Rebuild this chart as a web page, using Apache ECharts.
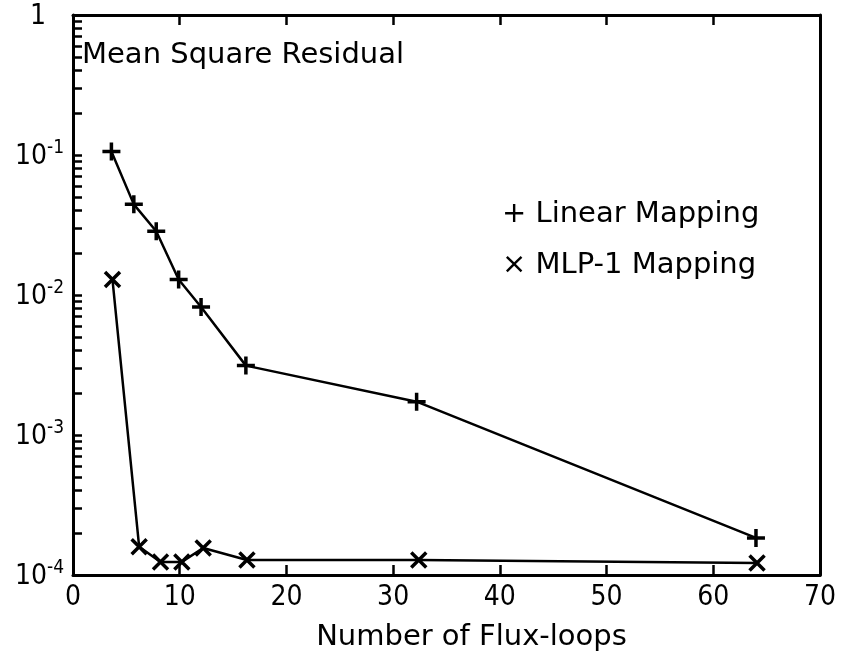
<!DOCTYPE html>
<html>
<head>
<meta charset="utf-8">
<script src="https://cdn.jsdelivr.net/npm/echarts@6/dist/echarts.min.js"></script>
<style>html,body{margin:0;padding:0;background:#fff;}#c{width:841px;height:662px;}</style>
</head>
<body>
<div id="c"></div>
<script>
// Data
var linearX = [3.6, 5.7, 7.8, 9.9, 12, 16.2, 32.2, 64];
var linearY = [0.106, 0.0444, 0.0285, 0.0129, 0.0082, 0.00313, 0.00173, 0.000184];
var mlpX = [3.7, 6.2, 8.2, 10.2, 12.2, 16.3, 32.4, 64.1];
var mlpY = [0.0129, 0.000159, 0.000124, 0.000124, 0.000156, 0.000128, 0.000128, 0.000122];
var xTicks = [0, 10, 20, 30, 40, 50, 60, 70];
var yDecades = [1e-4, 1e-3, 1e-2, 1e-1, 1];
var yDecadeLabels = ['10', '10', '10', '10', '1'];
var yDecadeExps = ['-4', '-3', '-2', '-1', ''];
var seriesNames = ['Linear Mapping', 'MLP-1 Mapping'];
var titleText = 'Mean Square Residual';
var xName = 'Number of Flux-loops';

var FONT = 'DejaVu Sans';
var NUMFONT = '"DejaVu Sans Condensed", "DejaVu Sans"';
var minorVals = [];
for (var d = -4; d < 0; d++) {
  for (var k = 1; k <= 9; k++) minorVals.push(k * Math.pow(10, d));
}
minorVals.push(1);

function pairs(xs, ys) { return xs.map(function (x, i) { return [x, ys[i]]; }); }

var plusPath = 'path://M0,5L10,5M5,0L5,10';
var crossPath = 'path://M0,0L10,10M10,0L0,10';

var chart = echarts.init(document.getElementById('c'));
chart.setOption({
  animation: false,
  backgroundColor: '#fff',
  grid: { left: 73, right: 21, top: 15, bottom: 87, outerBoundsMode: 'none', containLabel: false },
  title: {
    text: titleText, left: 82, top: 41, padding: 0,
    textStyle: { fontFamily: FONT, fontSize: 29, fontWeight: 'normal', color: '#000' }
  },
  legend: {
    data: seriesNames, orient: 'vertical', left: 497, top: 200, itemGap: 22,
    icon: 'none', itemWidth: 0, itemHeight: 0, padding: 0,
    formatter: function (n) { return (n === seriesNames[0] ? '+ ' : '\u00d7 ') + n; },
    textStyle: { fontFamily: FONT, fontSize: 29, color: '#000' }
  },
  xAxis: [{
    type: 'value', min: 0, max: 70, interval: 10,
    name: xName, nameLocation: 'middle', nameGap: 48,
    nameTextStyle: { fontFamily: FONT, fontSize: 29, color: '#000', padding: [0, 0, 0, 50] },
    axisLine: { lineStyle: { color: '#000', width: 3 } },
    axisTick: { inside: true, length: 10, lineStyle: { color: '#000', width: 2.5 } },
    axisLabel: { fontFamily: NUMFONT, fontSize: 28, color: '#000', margin: 9,
      customValues: xTicks },
    splitLine: { show: false }
  }, {
    type: 'value', position: 'top', min: 0, max: 70, interval: 10,
    axisLine: { lineStyle: { color: '#000', width: 3 } },
    axisTick: { inside: true, length: 10, lineStyle: { color: '#000', width: 2.5 } },
    axisLabel: { show: false }, splitLine: { show: false }
  }],
  yAxis: [{
    type: 'log', logBase: 10, min: 1e-4, max: 1,
    axisLine: { lineStyle: { color: '#000', width: 3 } },
    axisTick: { show: false },
    axisLabel: {
      margin: 9,
      customValues: yDecades,
      formatter: function (v) {
        var i = yDecades.findIndex(function (d) { return Math.abs(Math.log10(d) - Math.log10(v)) < 1e-6; });
        if (i < 0) return '';
        if (yDecadeExps[i] === '') return '{one|' + yDecadeLabels[i] + '}';
        return '{b|' + yDecadeLabels[i] + '}{s|' + yDecadeExps[i] + '}';
      },
      rich: {
        one: { fontFamily: NUMFONT, fontSize: 28, color: '#000', lineHeight: 32, padding: [4, 18, 0, 0] },
        b: { fontFamily: NUMFONT, fontSize: 28, color: '#000', lineHeight: 32, verticalAlign: 'bottom' },
        s: { fontFamily: NUMFONT, fontSize: 19, color: '#000', lineHeight: 32, verticalAlign: 'top', padding: [0, 0, 10, 0] }
      }
    },
    splitLine: { show: false }
  }, {
    type: 'log', logBase: 10, min: 1e-4, max: 1, position: 'left',
    axisLine: { show: false },
    axisTick: { show: true, inside: true, length: 9, customValues: minorVals,
      lineStyle: { color: '#000', width: 2.5 } },
    axisLabel: { show: false }, splitLine: { show: false }
  }, {
    type: 'log', logBase: 10, min: 1e-4, max: 1, position: 'right',
    axisLine: { show: true, lineStyle: { color: '#000', width: 3 } },
    axisTick: { show: false }, axisLabel: { show: false }, splitLine: { show: false }
  }],
  series: [{
    name: seriesNames[0], type: 'line', data: pairs(linearX, linearY),
    symbol: plusPath, symbolSize: 18,
    lineStyle: { color: '#000', width: 2.5 },
    itemStyle: { color: '#000', borderColor: '#000', borderWidth: 3.5 }
  }, {
    name: seriesNames[1], type: 'line', data: pairs(mlpX, mlpY),
    symbol: crossPath, symbolSize: 15,
    lineStyle: { color: '#000', width: 2.5 },
    itemStyle: { color: '#000', borderColor: '#000', borderWidth: 3.5 }
  }]
});
</script>
</body>
</html>
